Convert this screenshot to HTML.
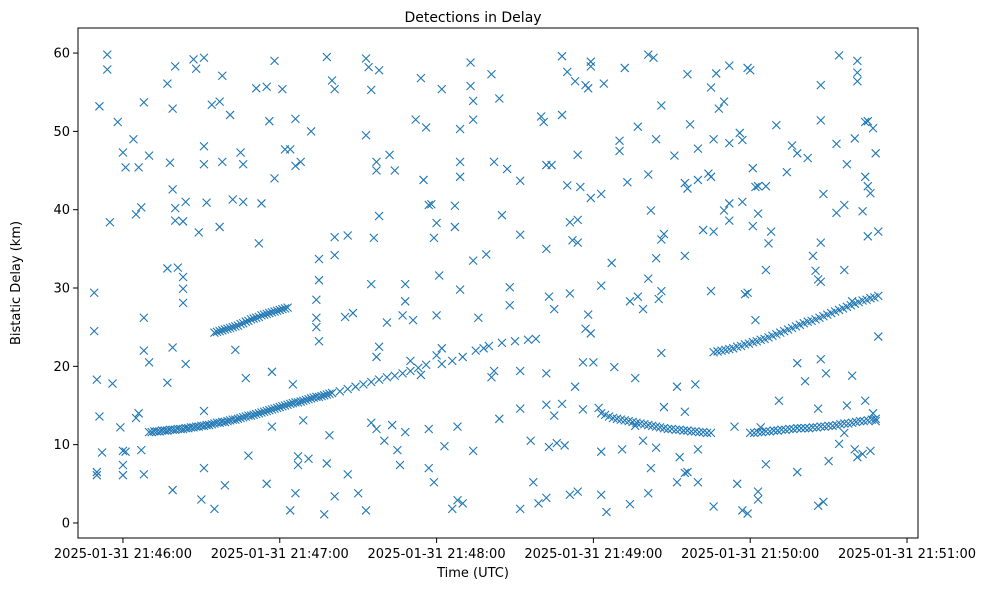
<!DOCTYPE html>
<html><head><meta charset="utf-8"><style>
body{margin:0;background:#fff}
svg{display:block;font-family:"DejaVu Sans","Liberation Sans",sans-serif}
</style></head><body>
<svg id="chart" width="988" height="590" viewBox="0 0 988 590" xmlns="http://www.w3.org/2000/svg">
<rect x="0" y="0" width="988" height="590" fill="#fff"/>
<text x="473" y="22" text-anchor="middle" font-size="14">Detections in Delay</text>
<text x="473" y="577" text-anchor="middle" font-size="13">Time (UTC)</text>
<text transform="translate(20,283) rotate(-90)" text-anchor="middle" font-size="13">Bistatic Delay (km)</text>
<g id="marks"></g>
<g id="axes"></g>
</svg>
<script>
const xTicks = [0, 60, 120, 180, 240, 300];
const xTickLabels = ["2025-01-31 21:46:00","2025-01-31 21:47:00","2025-01-31 21:48:00","2025-01-31 21:49:00","2025-01-31 21:50:00","2025-01-31 21:51:00"];
const yTicks = [0, 10, 20, 30, 40, 50, 60];
const yTickLabels = ["0","10","20","30","40","50","60"];

// seconds after 21:46:00, km
const trackA_t = [10,12,14,16,18,20,22,24,26,28,30,32,34,36,38,40,42,44,46,48,50,52,54,56,58,60,62,64,66,68,70,72,74,76,78,80,83,86,89,92,95,98,101,104,107,110,113,116];
const trackA_y = [11.6,11.7,11.7,11.8,11.9,11.9,12.0,12.1,12.2,12.3,12.4,12.5,12.6,12.8,12.9,13.0,13.2,13.3,13.5,13.7,13.8,14.0,14.2,14.4,14.6,14.8,15.0,15.2,15.4,15.5,15.7,15.9,16.1,16.2,16.4,16.6,16.8,17.1,17.4,17.7,18.0,18.3,18.6,18.8,19.1,19.4,19.8,20.2];
const trackA2_t = [11,13,15,17,19,21,23,25,27,29,31,33,35,37,39,41,43,45,47,49,51,53,55,57,59,61,63,65,67,69,71,73,75,77,79];
const trackA2_y = [11.6,11.7,11.8,11.8,11.9,12.0,12.0,12.1,12.2,12.3,12.4,12.5,12.7,12.8,12.9,13.1,13.2,13.4,13.6,13.7,13.9,14.1,14.3,14.5,14.7,14.9,15.1,15.3,15.4,15.6,15.8,16.0,16.1,16.3,16.5];
const trackB_t = [35,37,39,41,43,45,47,49,51,53,55,57,59,61,63];
const trackB_y = [24.3,24.5,24.7,24.9,25.1,25.4,25.7,26.0,26.2,26.5,26.7,26.9,27.1,27.3,27.5];
const trackB2_t = [36,38,40,42,44,46,48,50,52,54,56,58,60,62];
const trackB2_y = [24.4,24.6,24.8,25.0,25.2,25.5,25.8,26.1,26.3,26.6,26.8,27.0,27.2,27.4];
const trackC_t = [183,186,189,192,195,198,201,204,207,210,213,216,219,222,225];
const trackC_y = [14.0,13.6,13.3,13.1,12.9,12.7,12.5,12.3,12.1,12.0,11.9,11.8,11.7,11.6,11.5];
const trackC2_t = [184.5,187.5,190.5,193.5,196.5,199.5,202.5,205.5,208.5,211.5,214.5,217.5,220.5,223.5];
const trackC2_y = [13.8,13.4,13.2,13.0,12.8,12.6,12.4,12.2,12.0,11.9,11.8,11.7,11.6,11.5];
const trackD_t = [226,229,232,235,238,241,244,247,250,253,256,259,262,265,268,271,274,277,280,283,286,289];
const trackD_y = [21.8,22.0,22.2,22.5,22.8,23.1,23.4,23.7,24.1,24.5,24.9,25.3,25.7,26.0,26.4,26.8,27.2,27.6,28.0,28.4,28.7,29.0];
const trackD2_t = [227.5,230.5,233.5,236.5,239.5,242.5,245.5,248.5,251.5,254.5,257.5,260.5,263.5,266.5,269.5,272.5,275.5,278.5,281.5,284.5,287.5];
const trackD2_y = [21.9,22.1,22.3,22.6,22.9,23.2,23.5,23.9,24.3,24.7,25.1,25.5,25.8,26.2,26.6,27.0,27.4,27.8,28.2,28.5,28.8];
const trackE_t = [240,243,246,249,252,255,258,261,264,267,270,273,276,279,282,285,288];
const trackE_y = [11.5,11.6,11.7,11.8,11.9,12.0,12.1,12.1,12.2,12.3,12.4,12.5,12.7,12.8,13.0,13.1,13.3];
const trackE2_t = [241.5,244.5,247.5,250.5,253.5,256.5,259.5,262.5,265.5,268.5,271.5,274.5,277.5,280.5,283.5,286.5];
const trackE2_y = [11.5,11.6,11.7,11.8,11.9,12.0,12.1,12.1,12.2,12.3,12.4,12.6,12.7,12.9,13.0,13.2];
const trackF_t = [122,126,130,135,140,145,150,155,158];
const trackF_y = [20.3,20.7,21.2,22.0,22.6,23.0,23.2,23.4,23.5];

const noise = [[-11,29.4],[-11,24.5],[-10,18.3],[-10,6.5],[-10,6.1],[-9,53.2],[-9,13.6],[-8,9],[-6,59.8],[-6,57.9],[-5,38.4],[-4,17.8],[-2,51.2],[-1,12.2],[0,47.3],[0,9.2],[0,7.4],[0,6.1],[1,45.4],[1,9.1],
[4,49],[5,39.4],[5,13.4],[6,45.4],[6,14],[7,40.3],[7,9.3],[8,53.7],[8,26.2],[8,22],[8,6.2],[10,20.5],[10,46.9],[17,56.1],[17,32.5],[17,17.9],[19,52.9],[18,46],[19,42.6],[19,22.4],[19,4.2],[20,40.2],[20,38.6],[20,58.3],[21,32.6],[23,31.4],[23,29.9],[23,28.1],[23,38.5],[24,41],[24,20.3],[27,59.2],[28,58],[29,37.1],[31,59.4],[31,48.1],[31,45.8],[31,14.3],[31,7],[30,3],[32,40.9],[34,53.4],[35,1.8],[37,37.8],[38,57.1],[37,53.8],[38,46.1],[39,4.8],[41,52.1],[42,41.3],[43,22.1],[45,47.3],[46,45.8],[46,41],[47,18.5],[48,8.6],[51,55.5],[52,35.7],[53,40.8],[55,5],[55,55.7],[56,51.3],[57,19.3],[57,12.3],[58,44],[58,59],[61,55.4],[62,47.7],[64,47.7],[65,17.7],[64,1.6],[66,51.6],[66,45.6],[66,3.8],[67,8.5],[67,7.4],[68,46.1],[69,13.1],[72,50],[74,28.5],[71,8.2],[74,26.2],[74,25],[75,23.2],[75,33.7],[75,31],[78,7.6],[77,1.1],[78,59.5],[79,11.2],[80,56.5],[81,55.4],[81,34.2],[81,36.5],[81,3.4],[85,26.3],[86,36.7],[86,6.2],[88,26.8],[90,3.8],[93,59.3],[93,49.5],[94,58.2],[95,55.3],[95,30.5],[96,36.4],[97,46.1],[97,45],[98,22.5],[98,57.8],[98,39.2],[97,21.2],[95,12.8],[93,1.6],[97,12],[100,10.5],[101,25.6],[102,47],[104,45],[103,12.5],[105,9.3],[106,7.4],[108,30.5],[108,28.3],[107,26.5],[108,11.6],[110,20.7],[111,25.9],[112,51.5],[114,18.9],[114,56.8],[116,50.5],[115,43.8],[117,12],[117,40.6],[117,7],[118,40.7],[119,36.4],[119,5.2],[121,31.6],[120,26.5],[120,21.4],[122,55.4],[120,38.3],[122,22.3],[123,9.8],[126,1.8],[127,37.8],[127,40.5],[128,12.3],[129,50.3],[129,46.1],[129,44.2],[129,29.8],[128,2.9],[130,2.5],[133,58.8],[133,55.8],[134,53.9],[134,33.5],[134,9.2],[134,51.5],[136,26.2],[138,22.3],[139,34.3],[141,57.3],[142,46.1],[142,19.4],[141,18.6],[144,54.2],[145,39.3],[144,13.3],[147,45.2],[148,30.1],[148,27.8],[152,19.4],[152,36.8],[152,43.7],[152,14.6],[152,1.8],[156,10.5],[157,5.2],[159,2.5],[160,51.9],[161,51.2],[162,35],[162,19.1],[163,9.7],[162,3.2],[162,45.7],[163,28.9],[162,15.1],[164,45.7],[165,27.3],[165,13.7],[166,10.2],[168,59.6],[168,52.1],[168,15.2],[170,57.6],[170,43.1],[169,9.9],[171,38.4],[172,36.1],[171,29.3],[171,3.6],[173,56.4],[174,38.7],[174,35.8],[173,17.4],[174,4],[174,47],[175,42.9],[176,20.5],[176,14.5],[177,24.8],[177,55.9],[178,55.5],[178,26.6],[179,58.9],[179,58.3],[179,41.5],[179,24.2],[180,20.5],[182,14.7],[183,30.3],[183,9.1],[183,3.6],[184,56.1],[183,42],[185,1.4],[187,33.2],[188,19.9],[190,48.8],[190,47.5],[191,9.4],[192,58.1],[193,43.5],[194,28.3],[194,2.4],[196,18.5],[196,12.4],[197,28.9],[197,50.6],[199,27.3],[199,10.5],[201,59.8],[201,44.5],[202,39.9],[201,31.2],[202,7],[201,3.8],[203,59.4],[204,49],[204,33.8],[205,28.6],[206,21.7],[204,9.6],[206,53.3],[207,36.9],[206,36.2],[206,29.6],[207,14.8],[211,46.9],[212,5.2],[212,17.4],[213,8.4],[215,14.2],[215,34.1],[215,6.4],[215,43.4],[216,42.7],[216,6.5],[216,57.3],[217,50.9],[219,17.7],[220,47.8],[220,43.8],[220,9.4],[220,5.2],[222,37.4],[224,44.6],[225,44.2],[225,55.6],[226,49],[226,37.2],[225,29.6],[226,2.1],[227,57.4],[228,52.9],[230,39.9],[230,53.8],[232,38.6],[232,58.4],[232,48.5],[232,40.8],[234,12.3],[235,5],[236,49.8],[237,48.9],[237,41],[238,29.2],[239,29.4],[237,1.6],[239,1.2],[239,58.1],[240,57.8],[241,45.3],[241,37.9],[242,25.9],[242,42.9],[243,39.5],[243,4],[243,3],[246,7.5],[244,12.2],[243,43],[246,32.3],[246,43],[250,50.8],[248,37.2],[247,35.7],[251,15.6],[254,44.8],[256,48.2],[258,47.2],[258,20.4],[258,6.5],[261,18.1],[262,46.6],[264,34.1],[265,32.2],[266,31.1],[267,30.8],[267,55.9],[267,51.4],[268,42],[267,35.8],[267,20.9],[266,14.6],[268,2.7],[266,2.2],[269,19.1],[270,7.9],[273,39.6],[273,48.4],[274,10.1],[276,32.3],[276,11.5],[274,59.7],[276,40.6],[277,45.8],[277,15],[279,28.3],[280,49.1],[279,18.8],[280,9.4],[281,56.4],[281,59],[281,57.5],[281,8.4],[283,39.8],[283,8.8],[284,51.2],[285,51.3],[284,15.6],[284,44.2],[285,43],[286,42.1],[287,50.4],[285,36.6],[288,47.2],[289,37.2],[289,23.8],[286,9.2],[287,14],[288,13]];

const X0 = 78, X1 = 918, Y0 = 538, Y1 = 28;
const xMin = -17.2, xMax = 304.2, yMin = -1.92, yMax = 63.2;
function xs(t){ return X0 + (t - xMin) / (xMax - xMin) * (X1 - X0); }
function ys(v){ return Y0 - (v - yMin) / (yMax - yMin) * (Y0 - Y1); }
const NS = "http://www.w3.org/2000/svg";
const marks = document.getElementById('marks');
const axes = document.getElementById('axes');
function mk(tag, attrs, parent){ const e = document.createElementNS(NS, tag); for (const k in attrs) e.setAttribute(k, attrs[k]); parent.appendChild(e); return e; }

function drawX(t, v, name){
  const cx = xs(t), cy = ys(v), r = 4;
  const p = mk('path', {d:`M${cx-r},${cy-r}L${cx+r},${cy+r}M${cx-r},${cy+r}L${cx+r},${cy-r}`, stroke:'#1f77b4', 'stroke-width':1.1, fill:'none'}, marks);
  
  
}
function drawTrack(ts, vs, name){ for (let i = 0; i < ts.length; i++) drawX(ts[i], vs[i], name); }
noise.forEach(d => drawX(d[0], d[1], 'detection-point'));
drawTrack(trackA_t, trackA_y, 'track-a-point');
drawTrack(trackA2_t, trackA2_y, 'track-a-point');
drawTrack(trackB_t, trackB_y, 'track-b-point');
drawTrack(trackB2_t, trackB2_y, 'track-b-point');
drawTrack(trackC_t, trackC_y, 'track-c-point');
drawTrack(trackC2_t, trackC2_y, 'track-c-point');
drawTrack(trackD_t, trackD_y, 'track-d-point');
drawTrack(trackD2_t, trackD2_y, 'track-d-point');
drawTrack(trackE_t, trackE_y, 'track-e-point');
drawTrack(trackE2_t, trackE2_y, 'track-e-point');
drawTrack(trackF_t, trackF_y, 'track-f-point');

const frame = mk('rect', {x:X0, y:Y1, width:X1-X0, height:Y0-Y1, fill:'none', stroke:'#000', 'stroke-width':1}, axes);


xTicks.forEach((t, i) => {
  const x = xs(t);
  const l = mk('line', {x1:x, x2:x, y1:Y0, y2:Y0+5, stroke:'#000'}, axes);
  
  
  const tx = mk('text', {x:x, y:Y0+20, 'text-anchor':'middle', 'font-size':13}, axes);
  tx.textContent = xTickLabels[i];
  
  
});
yTicks.forEach((v, i) => {
  const y = ys(v);
  const l = mk('line', {x1:X0-5, x2:X0, y1:y, y2:y, stroke:'#000'}, axes);
  
  
  const tx = mk('text', {x:X0-8, y:y+4.5, 'text-anchor':'end', 'font-size':13}, axes);
  tx.textContent = yTickLabels[i];
  
  
});
</script>
</body></html>
